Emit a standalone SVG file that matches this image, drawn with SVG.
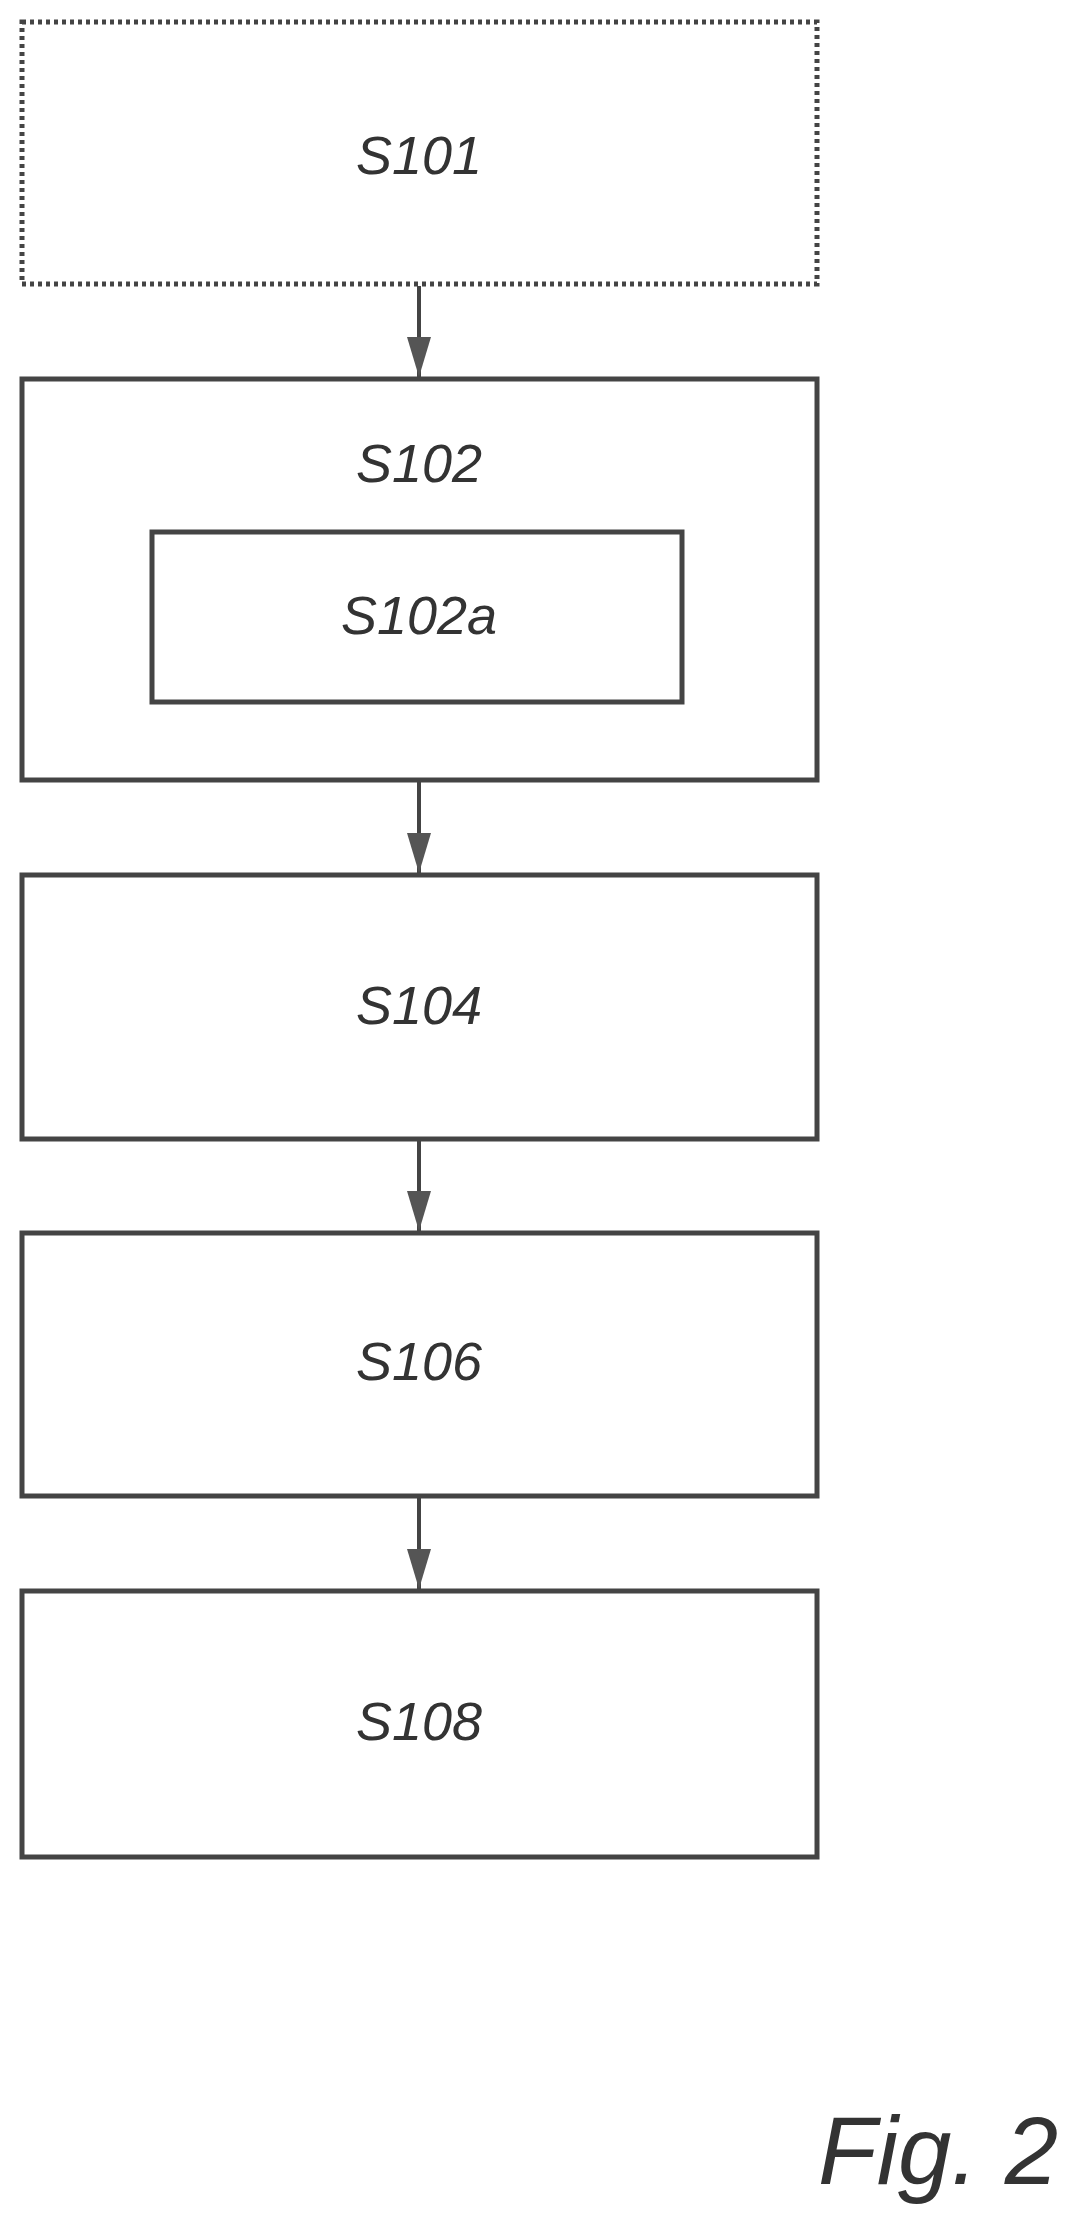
<svg xmlns="http://www.w3.org/2000/svg" width="1082" height="2225" viewBox="0 0 1082 2225">
<style>
.b{fill:none;stroke:#444;stroke-width:5}
.d{stroke-dasharray:4 4}
.t{font-family:"Liberation Sans",Arial,sans-serif;font-style:italic;font-size:54px;fill:#333;text-anchor:middle}
.c{stroke:#444;stroke-width:4;fill:none}
</style>
<defs>
<marker id="a" viewBox="0 0 40 24" refX="40" refY="12" markerWidth="40" markerHeight="24" markerUnits="userSpaceOnUse" orient="auto"><path d="M0,0 L40,12 L0,24 Z" fill="#555"/></marker></defs>
<g id="n101"><rect class="b d" x="22" y="22" width="795" height="262"/><text class="t" x="419" y="174">S101</text></g>
<g id="n102"><rect class="b" x="22" y="379" width="795" height="401"/><text class="t" x="419" y="482">S102</text></g>
<g id="n102a"><rect class="b" x="152" y="532" width="530" height="170"/><text class="t" x="419" y="634">S102a</text></g>
<g id="n104"><rect class="b" x="22" y="875" width="795" height="264"/><text class="t" x="419" y="1024">S104</text></g>
<g id="n106"><rect class="b" x="22" y="1233" width="795" height="263"/><text class="t" x="419" y="1380">S106</text></g>
<g id="n108"><rect class="b" x="22" y="1591" width="795" height="266"/><text class="t" x="419" y="1740">S108</text></g>
<g id="connectors">
<line class="c" x1="419" y1="286" x2="419" y2="377" marker-end="url(#a)"/>
<line class="c" x1="419" y1="782" x2="419" y2="873" marker-end="url(#a)"/>
<line class="c" x1="419" y1="1141" x2="419" y2="1231" marker-end="url(#a)"/>
<line class="c" x1="419" y1="1498" x2="419" y2="1589" marker-end="url(#a)"/>
</g>
<text x="818" y="2184" style="font-family:'Liberation Sans',Arial,sans-serif;font-style:italic;font-size:96px;fill:#333">Fig. 2</text>
</svg>
